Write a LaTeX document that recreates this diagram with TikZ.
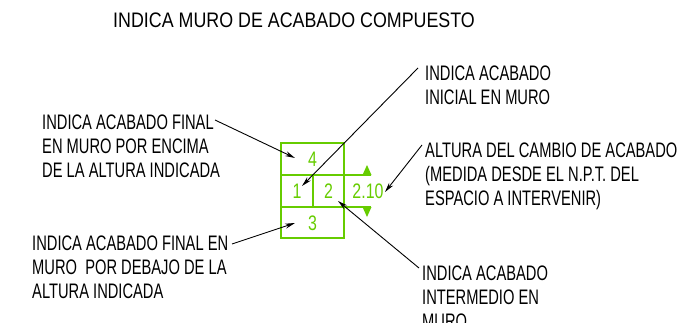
\documentclass[tikz,border=0pt]{standalone}
\usepackage{fontspec}
\setmainfont{Liberation Sans}
\newfontfamily\titlef[FakeStretch=0.85]{Liberation Sans}
\newfontfamily\bodyf[FakeStretch=0.70]{Liberation Sans}
\newfontfamily\numf[FakeStretch=0.76]{Liberation Sans}
\usetikzlibrary{arrows.meta}
\definecolor{cadgreen}{HTML}{66CC00}
\tikzset{
  lbl/.style={inner sep=0pt, anchor=base west, align=left, font=\bodyf\fontsize{21}{23.8}\selectfont, text=black},
  num/.style={inner sep=0pt, font=\numf\fontsize{21}{24}\selectfont, text=cadgreen},
  gline/.style={draw=cadgreen, line width=1.8pt},
  lead/.style={draw=black, line width=0.9pt, -{Stealth[length=10pt,width=5pt]}},
  tri/.style={fill=cadgreen, draw=none}
}
\begin{document}
\begin{tikzpicture}[x=1pt,y=-1pt]
\useasboundingbox (0,0) rectangle (692,323);
% title
\node[lbl, font=\titlef\fontsize{21}{24}\selectfont] (title) at (113,28) {INDICA MURO DE ACABADO COMPUESTO};
% symbol box
\draw[gline] (281,143) rectangle (344,238);
\draw[gline] (281,175) -- (371,175);
\draw[gline] (281,207) -- (371,207);
\draw[gline] (313,175) -- (313,207);
\fill[tri] (362.5,175) -- (371.5,175) -- (367,165) -- cycle;
\fill[tri] (362.5,207) -- (371.5,207) -- (367,217) -- cycle;
\node[num] (n4) at (312.5,159) {4};
\node[num] (n1) at (297,191) {1};
\node[num] (n2) at (328.5,191) {2};
\node[num] (n3) at (312.5,223) {3};
\node[num] (h) at (368,191) {2.10};
% labels (base anchor = baseline of last line)
\node[lbl] (tl) at (42,177) {INDICA ACABADO FINAL\\EN MURO POR ENCIMA\\DE LA ALTURA INDICADA};
\node[lbl] (bl) at (32,298) {INDICA ACABADO FINAL EN\\MURO \ POR DEBAJO DE LA\\ALTURA INDICADA};
\node[lbl] (tr) at (425,104.5) {INDICA ACABADO\\INICIAL EN MURO};
\node[lbl] (mr) at (425,205) {ALTURA DEL CAMBIO DE ACABADO\\(MEDIDA DESDE EL N.P.T. DEL\\ESPACIO A INTERVENIR)};
\node[lbl] (br) at (422,328) {INDICA ACABADO\\INTERMEDIO EN\\MURO};
% leader coordinates
\coordinate (s1) at (215,120); \coordinate (e1) at (295,158);
\coordinate (s2) at (418,68);  \coordinate (e2) at (302,186);
\coordinate (s3) at (422,145); \coordinate (e3) at (385,192);
\coordinate (s4) at (232,244); \coordinate (e4) at (295,223);
\coordinate (s5) at (419,268); \coordinate (e5) at (338,201);
\draw[lead] (s1) -- (e1);
\draw[lead] (s2) -- (e2);
\draw[lead] (s3) -- (e3);
\draw[lead] (s4) -- (e4);
\draw[lead] (s5) -- (e5);
\end{tikzpicture}
\end{document}
